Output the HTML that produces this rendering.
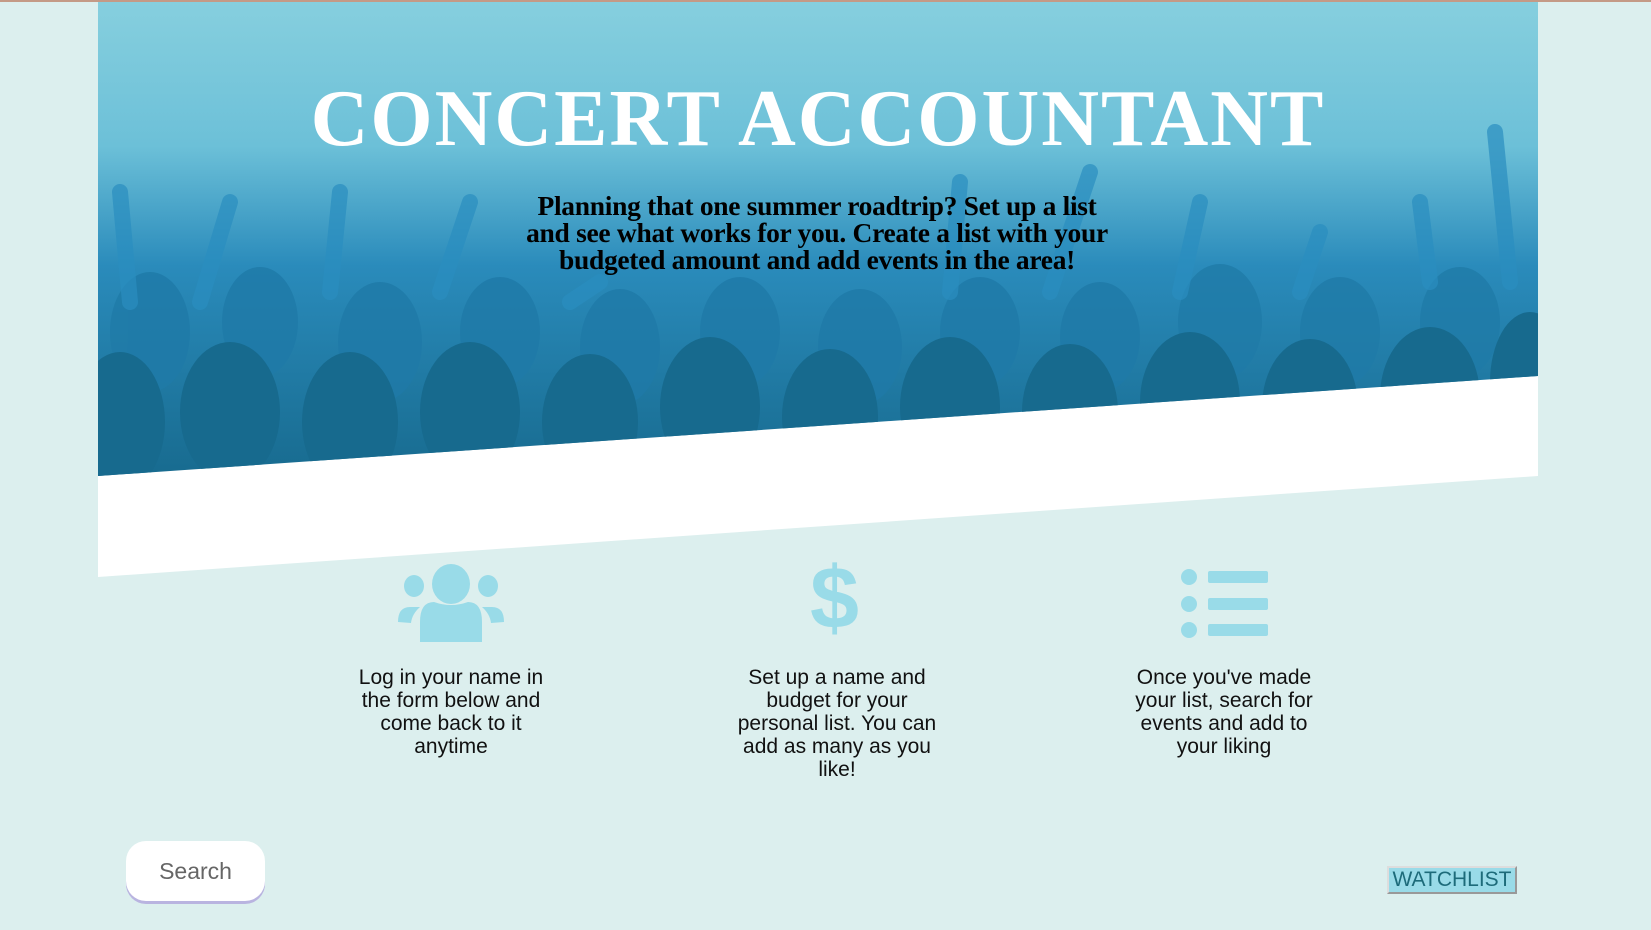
<!DOCTYPE html>
<html><head><meta charset="utf-8"><style>
body{margin:0;width:1651px;height:928px;background:#dcefee;position:relative;overflow:hidden;font-family:"Liberation Sans",sans-serif;border-top:2px solid #c49a86;box-sizing:border-box}
.abs{position:absolute}
h1{position:absolute;left:98px;width:1440px;top:72px;margin:0;text-align:center;font:bold 80px "Liberation Serif",serif;color:#fff;letter-spacing:2px}
.intro{position:absolute;left:487px;width:660px;top:190px;text-align:center;font:bold 27.5px/27px "Liberation Serif",serif;color:#000;margin:0;letter-spacing:-0.3px}
.col{position:absolute;width:206px;text-align:center;font:21px/23px "Liberation Sans",sans-serif;color:#111;top:664px}
</style></head><body>
<svg class="abs" style="left:0;top:0" width="1651" height="928">
<defs>
<linearGradient id="g" x1="0" y1="0" x2="0" y2="1"><stop offset="0" stop-color="#86cfde"/><stop offset="0.3" stop-color="#6cc0d8"/><stop offset="0.55" stop-color="#2a8bbb"/><stop offset="1" stop-color="#176a8e"/></linearGradient>
<clipPath id="c"><polygon points="98,0 1538,0 1538,374 98,474"/></clipPath>
</defs>
<polygon points="98,374 1538,374 1538,474 98,575" fill="#fff"/>
<g clip-path="url(#c)">
<rect x="98" y="0" width="1440" height="480" fill="url(#g)"/>
<g fill="#1f7aa8" opacity="0.8">
<ellipse cx="150" cy="330" rx="40" ry="60"/><ellipse cx="260" cy="320" rx="38" ry="55"/><ellipse cx="380" cy="340" rx="42" ry="60"/><ellipse cx="500" cy="330" rx="40" ry="55"/><ellipse cx="620" cy="345" rx="40" ry="58"/><ellipse cx="740" cy="330" rx="40" ry="55"/><ellipse cx="860" cy="345" rx="42" ry="58"/><ellipse cx="980" cy="330" rx="40" ry="55"/><ellipse cx="1100" cy="335" rx="40" ry="55"/><ellipse cx="1220" cy="320" rx="42" ry="58"/><ellipse cx="1340" cy="330" rx="40" ry="55"/><ellipse cx="1460" cy="320" rx="40" ry="55"/>
</g>
<g stroke="#2a8ec0" stroke-width="16" stroke-linecap="round" opacity="0.7">
<line x1="130" y1="300" x2="120" y2="190"/><line x1="200" y1="300" x2="230" y2="200"/><line x1="330" y1="290" x2="340" y2="190"/><line x1="440" y1="290" x2="470" y2="200"/><line x1="570" y1="300" x2="600" y2="280"/><line x1="950" y1="290" x2="960" y2="180"/><line x1="1050" y1="290" x2="1090" y2="170"/><line x1="1180" y1="290" x2="1200" y2="200"/><line x1="1300" y1="290" x2="1320" y2="230"/><line x1="1430" y1="280" x2="1420" y2="200"/><line x1="1510" y1="280" x2="1495" y2="130"/>
</g>
<g fill="#176a8e">
<ellipse cx="120" cy="420" rx="45" ry="70"/><ellipse cx="230" cy="410" rx="50" ry="70"/><ellipse cx="350" cy="420" rx="48" ry="70"/><ellipse cx="470" cy="410" rx="50" ry="70"/><ellipse cx="590" cy="420" rx="48" ry="68"/><ellipse cx="710" cy="405" rx="50" ry="70"/><ellipse cx="830" cy="415" rx="48" ry="68"/><ellipse cx="950" cy="405" rx="50" ry="70"/><ellipse cx="1070" cy="410" rx="48" ry="68"/><ellipse cx="1190" cy="400" rx="50" ry="70"/><ellipse cx="1310" cy="405" rx="48" ry="68"/><ellipse cx="1430" cy="395" rx="50" ry="70"/><ellipse cx="1530" cy="380" rx="40" ry="70"/>
</g>
</g>
</svg>
<h1>CONCERT ACCOUNTANT</h1>
<p class="intro">Planning that one summer roadtrip? Set up a list<br>and see what works for you. Create a list with your<br>budgeted amount and add events in the area!</p>

<svg class="abs" style="left:396px;top:562px" width="110" height="80" fill="#99dbe8">
<ellipse cx="55" cy="20" rx="19" ry="20"/><ellipse cx="18" cy="22" rx="10" ry="11"/><ellipse cx="92" cy="22" rx="10" ry="11"/>
<path d="M24,78 L24,58 Q24,38 38,38 Q55,44 72,38 Q86,38 86,58 L86,78 Z"/>
<path d="M2,58 Q2,43 14,43 L24,43 Q16,50 15,59 Z"/><path d="M108,58 Q108,43 96,43 L86,43 Q94,50 95,59 Z"/>
</svg>
<div class="abs" style="left:810px;top:546px;font:bold 88px 'Liberation Sans',sans-serif;color:#99dbe8;line-height:100px">$</div>
<svg class="abs" style="left:1180px;top:565px" width="90" height="75" fill="#99dbe8">
<ellipse cx="9" cy="10" rx="8" ry="8"/><ellipse cx="9" cy="37" rx="8" ry="8"/><ellipse cx="9" cy="63" rx="8" ry="8"/>
<rect x="28" y="4" width="60" height="12" rx="2"/><rect x="28" y="31" width="60" height="12" rx="2"/><rect x="28" y="57" width="60" height="12" rx="2"/>
</svg>

<div class="col" style="left:348px">Log in your name in the form below and come back to it anytime</div>
<div class="col" style="left:734px">Set up a name and budget for your personal list. You can add as many as you like!</div>
<div class="col" style="left:1121px">Once you've made your list, search for events and add to your liking</div>

<div class="abs" style="left:126px;top:839px;width:139px;height:60px;background:#fff;border-radius:20px;box-shadow:0 3px 0 #b9b4e0;font-size:23px;color:#666;text-align:center;line-height:60px">Search</div>
<div class="abs" style="left:1387px;top:864px;width:126px;height:24px;background:#99dbe8;border:2px solid;border-color:#ddd #999 #999 #ddd;font-size:21px;line-height:24px;color:#1d6b7a;text-align:center">WATCHLIST</div>
</body></html>
